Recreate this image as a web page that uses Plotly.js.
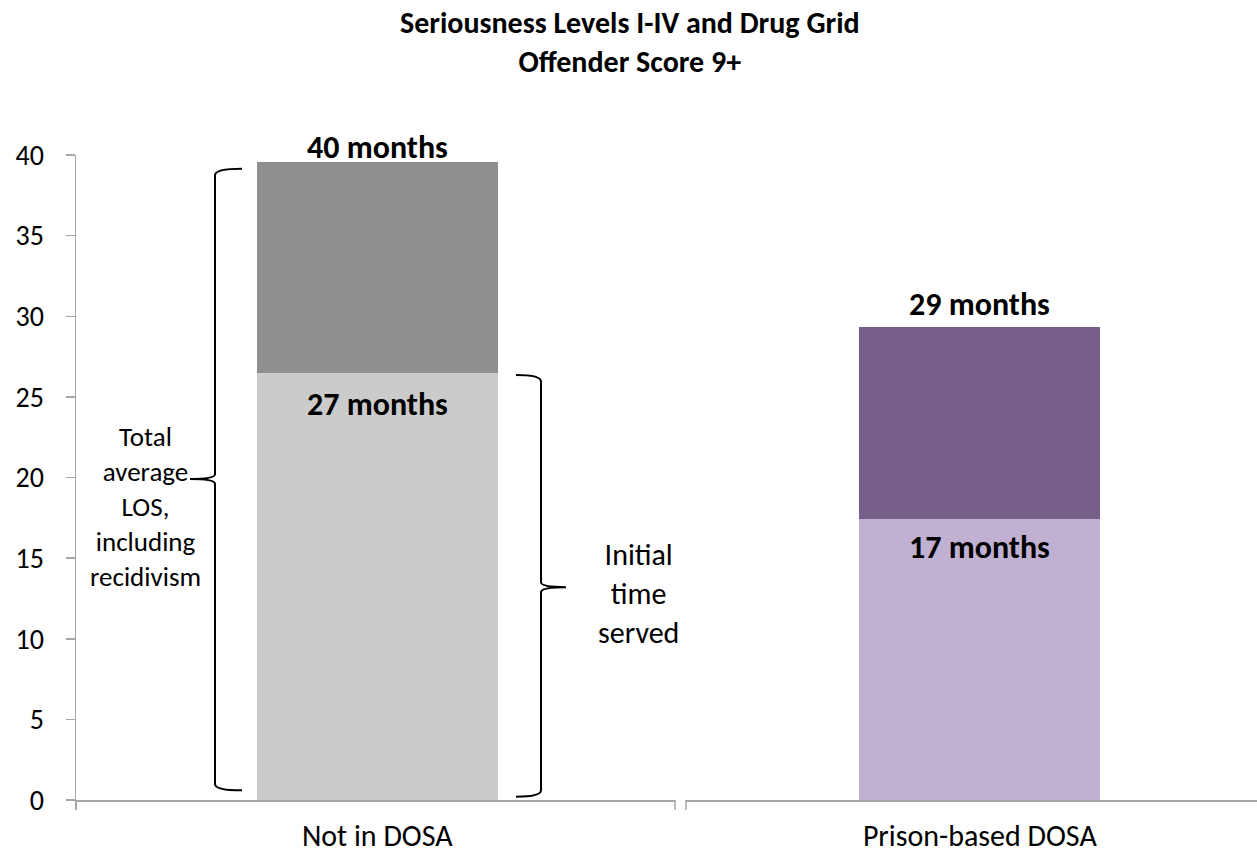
<!DOCTYPE html>
<html>
<head>
<meta charset="utf-8">
<script src="https://cdn.plot.ly/plotly-3.0.1.min.js"></script>
<style>
  html, body { margin: 0; padding: 0; background: #fff; }
  #chart { width: 1257px; height: 858px; }
</style>
</head>
<body>
<div id="chart"></div>
<script>
// werte
const kategorien = ["Not in DOSA", "Prison-based DOSA"];
const erstzeit = [26.5, 17.4];          // initial time served
const rueckfallZusatz = [13.05, 11.95]; // additional LOS incl. recidivism
const gesamtLabels = ["40 months", "29 months"];
const erstLabels = ["27 months", "17 months"];
const titel = "Seriousness Levels I-IV and Drug Grid<br>Offender Score 9+";

const farbenUnten = ["#CBCBCB", "#C0B1D3"];
const farbenOben = ["#8F8F8F", "#76608A"];

const schrift = "Carlito, Lato, 'Open Sans', sans-serif";

// pixel -> paper (plotbereich x 76 .. 1257, y 155 .. 800)
const px = (p) => (p - 76) / 1181;
const py = (p) => (800 - p) / 645;

const data = [
  {
    x: kategorien,
    y: erstzeit,
    type: "bar",
    width: 0.4,
    marker: { color: farbenUnten },
    hoverinfo: "skip",
  },
  {
    x: kategorien,
    y: rueckfallZusatz,
    type: "bar",
    width: 0.4,
    marker: { color: farbenOben },
    hoverinfo: "skip",
  },
];

const annotations = [];
const obenShift = [15, 22];
const untenShift = [-32, -28];
kategorien.forEach((k, i) => {
  annotations.push({
    x: k, y: erstzeit[i] + rueckfallZusatz[i],
    xref: "x", yref: "y",
    text: "<b>" + gesamtLabels[i] + "</b>",
    showarrow: false, xanchor: "center", yanchor: "middle", yshift: obenShift[i],
    font: { family: schrift, size: 32, color: "#000" },
  });
  annotations.push({
    x: k, y: erstzeit[i],
    xref: "x", yref: "y",
    text: "<b>" + erstLabels[i] + "</b>",
    showarrow: false, xanchor: "center", yanchor: "middle", yshift: untenShift[i],
    font: { family: schrift, size: 32, color: "#000" },
  });
});

// titel
annotations.push({
  x: px(630), y: py(42), xref: "paper", yref: "paper",
  text: "<b>" + titel + "</b>",
  showarrow: false, xanchor: "center", yanchor: "middle",
  font: { family: schrift, size: 30, color: "#000" },
});

// klammer-texte
annotations.push({
  x: px(145), y: 18.2, xref: "paper", yref: "y",
  text: "Total<br>average<br>LOS,<br>including<br>recidivism",
  showarrow: false, align: "center", xanchor: "center", yanchor: "middle",
  font: { family: schrift, size: 27, color: "#000" },
});
annotations.push({
  x: px(638), y: 12.8, xref: "paper", yref: "y",
  text: "Initial<br>time<br>served",
  showarrow: false, align: "center", xanchor: "center", yanchor: "middle",
  font: { family: schrift, size: 30, color: "#000" },
});

// geschweifte klammern
function klammer(xMitte, xSpitze, xEnde, yOben, ySpitze, yUnten) {
  const a = px(xMitte), s = px(xSpitze), e = px(xEnde);
  return "M " + e + "," + yOben +
    " Q " + a + "," + yOben + " " + a + "," + (yOben - 0.4) +
    " L " + a + "," + (ySpitze + 0.3) +
    " Q " + a + "," + ySpitze + " " + s + "," + ySpitze +
    " Q " + a + "," + ySpitze + " " + a + "," + (ySpitze - 0.3) +
    " L " + a + "," + (yUnten + 0.4) +
    " Q " + a + "," + yUnten + " " + e + "," + yUnten;
}

const grau = "#A6A6A6";
const shapes = [
  {
    type: "path", xref: "paper", yref: "y",
    path: klammer(215, 190, 242, 39.15, 19.9, 0.6),
    line: { color: "#000", width: 2 },
  },
  {
    type: "path", xref: "paper", yref: "y",
    path: klammer(541, 566, 516, 26.35, 13.2, 0.2),
    line: { color: "#000", width: 2 },
  },
  // luecke in der x-achse wie im original
  {
    type: "rect", xref: "paper", yref: "paper", layer: "above",
    x0: px(675.5), x1: px(685.5), y0: py(797), y1: py(812),
    fillcolor: "#fff", line: { width: 0 },
  },
  {
    type: "path", xref: "paper", yref: "paper", layer: "above",
    path: "M " + px(675) + "," + py(800) + " L " + px(675) + "," + py(810),
    line: { color: grau, width: 1.5 },
  },
  {
    type: "path", xref: "paper", yref: "paper", layer: "above",
    path: "M " + px(686) + "," + py(810) + " L " + px(686) + "," + py(800),
    line: { color: grau, width: 1.5 },
  },
];

const layout = {
  width: 1257,
  height: 858,
  paper_bgcolor: "#fff",
  plot_bgcolor: "#fff",
  barmode: "stack",
  showlegend: false,
  margin: { t: 155, r: 0, b: 58, l: 76 },
  xaxis: {
    type: "category",
    range: [-0.5, 1.46],
    showline: true,
    linecolor: grau,
    linewidth: 1.5,
    ticks: "outside",
    tickson: "boundaries",
    ticklen: 8,
    tickcolor: grau,
    tickwidth: 1.5,
    ticklabelstandoff: 8,
    showgrid: false,
    zeroline: false,
    tickfont: { family: schrift, size: 30, color: "#000" },
  },
  yaxis: {
    range: [0, 40],
    dtick: 5,
    showline: true,
    linecolor: grau,
    linewidth: 1.5,
    ticks: "outside",
    ticklen: 9,
    tickcolor: grau,
    tickwidth: 1.5,
    ticklabelstandoff: 16,
    showgrid: false,
    zeroline: false,
    tickfont: { family: schrift, size: 28, color: "#000" },
  },
  annotations: annotations,
  shapes: shapes,
};

Plotly.newPlot("chart", data, layout, { staticPlot: true });
</script>
</body>
</html>
